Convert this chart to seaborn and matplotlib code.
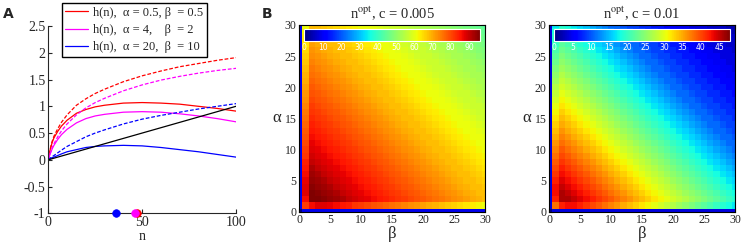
import numpy as np
import seaborn as sns
import matplotlib.pyplot as plt

# ---- panel A: h(n) curves (solid) and their cost-free version (dashed)
n_pts = [0, 1, 2, 3, 5, 7, 10, 15, 20, 25, 30, 40, 50, 60, 70, 80, 90, 100]
red_dash = [0, 0.20, 0.34, 0.44, 0.58, 0.70, 0.84, 1.02, 1.14, 1.24, 1.32, 1.46, 1.57, 1.66, 1.74, 1.80, 1.86, 1.91]
red_solid = [0, 0.19, 0.32, 0.41, 0.53, 0.63, 0.74, 0.87, 0.94, 0.99, 1.02, 1.06, 1.07, 1.06, 1.04, 1.00, 0.96, 0.91]
mag_dash = [0, 0.12, 0.22, 0.30, 0.43, 0.54, 0.67, 0.84, 0.97, 1.07, 1.15, 1.29, 1.40, 1.49, 1.56, 1.62, 1.67, 1.71]
mag_solid = [0, 0.11, 0.20, 0.27, 0.38, 0.47, 0.57, 0.69, 0.77, 0.82, 0.85, 0.89, 0.90, 0.89, 0.86, 0.82, 0.77, 0.71]
blue_dash = [0, 0.03, 0.06, 0.08, 0.13, 0.18, 0.25, 0.34, 0.43, 0.50, 0.56, 0.67, 0.76, 0.83, 0.89, 0.95, 1.00, 1.05]
blue_solid = [0, 0.02, 0.04, 0.05, 0.08, 0.11, 0.15, 0.19, 0.23, 0.25, 0.26, 0.27, 0.26, 0.23, 0.19, 0.15, 0.10, 0.05]
cost_n = [0, 100]
cost = [0, 1]
opt_n = [47.5, 46, 36]
line_colors = ['#ff0000', '#ff00ff', '#0000ff']
legend_labels = ['h(n),  \u03b1 = 0.5, \u03b2  = 0.5',
                 'h(n),  \u03b1 = 4,    \u03b2  = 2',
                 'h(n),  \u03b1 = 20,  \u03b2  = 10']
a_yticks = [-1, -0.5, 0, 0.5, 1, 1.5, 2, 2.5]
a_yticklabels = ['-1', '-0.5', '0', '0.5', '1', '1.5', '2', '2.5']
a_xticks = [0, 50, 100]

# ---- panels B, C: n_opt over (alpha rows 0..30, beta columns 0..30)
grid_ticks = [0, 5, 10, 15, 20, 25, 30]
cbar_ticks_005 = [0, 10, 20, 30, 40, 50, 60, 70, 80, 90]
cbar_ticks_01 = [0, 5, 10, 15, 20, 25, 30, 35, 40, 45]

nopt_c005 = [
    [0, 9, 9, 9, 9, 9, 9, 9, 9, 9, 9, 9, 9, 9, 9, 9, 9, 9, 9, 9, 9, 9, 9, 9, 9, 9, 9, 9, 9, 9, 9],
    [9, 81, 86, 88, 88, 87, 86, 85, 84, 82, 81, 80, 79, 78, 77, 76, 75, 74, 73, 72, 71, 70, 69, 68, 67, 66, 65, 64, 63, 62, 61],
    [9, 86, 96, 96, 95, 94, 93, 92, 90, 89, 88, 87, 86, 85, 84, 83, 82, 81, 80, 79, 78, 77, 76, 75, 74, 73, 72, 71, 70, 69, 68],
    [9, 88, 96, 95, 94, 93, 92, 90, 89, 88, 87, 86, 85, 84, 83, 82, 81, 80, 79, 78, 77, 76, 75, 74, 73, 72, 71, 70, 69, 68, 68],
    [9, 88, 95, 94, 93, 92, 90, 89, 88, 87, 86, 85, 84, 83, 82, 81, 80, 79, 78, 77, 76, 75, 74, 73, 72, 71, 70, 69, 68, 68, 67],
    [9, 87, 94, 93, 92, 90, 89, 88, 87, 86, 85, 84, 83, 82, 81, 80, 79, 78, 77, 76, 75, 74, 73, 72, 71, 70, 69, 68, 68, 67, 66],
    [9, 86, 93, 92, 90, 89, 88, 87, 86, 85, 84, 83, 82, 81, 80, 79, 78, 77, 76, 75, 74, 73, 72, 71, 70, 69, 68, 68, 67, 66, 65],
    [9, 85, 92, 90, 89, 88, 87, 86, 85, 84, 83, 82, 81, 80, 79, 78, 77, 76, 75, 74, 73, 72, 71, 70, 69, 68, 68, 67, 66, 65, 64],
    [9, 84, 90, 89, 88, 87, 86, 85, 84, 83, 82, 81, 80, 79, 78, 77, 76, 75, 74, 73, 72, 71, 70, 69, 68, 68, 67, 66, 65, 64, 63],
    [9, 82, 89, 88, 87, 86, 85, 84, 83, 82, 81, 80, 79, 78, 77, 76, 75, 74, 73, 72, 71, 70, 69, 68, 68, 67, 66, 65, 64, 63, 62],
    [9, 81, 88, 87, 86, 85, 84, 83, 82, 81, 80, 79, 78, 77, 76, 75, 74, 73, 72, 71, 70, 69, 68, 68, 67, 66, 65, 64, 63, 62, 61],
    [9, 80, 87, 86, 85, 84, 83, 82, 81, 80, 79, 78, 77, 76, 75, 74, 73, 72, 71, 70, 69, 68, 68, 67, 66, 65, 64, 63, 62, 61, 61],
    [9, 79, 86, 85, 84, 83, 82, 81, 80, 79, 78, 77, 76, 75, 74, 73, 72, 71, 70, 69, 68, 68, 67, 66, 65, 64, 63, 62, 61, 61, 60],
    [9, 78, 85, 84, 83, 82, 81, 80, 79, 78, 77, 76, 75, 74, 73, 72, 71, 70, 69, 68, 68, 67, 66, 65, 64, 63, 62, 61, 61, 60, 59],
    [9, 77, 84, 83, 82, 81, 80, 79, 78, 77, 76, 75, 74, 73, 72, 71, 70, 69, 68, 68, 67, 66, 65, 64, 63, 62, 61, 61, 60, 59, 58],
    [9, 76, 83, 82, 81, 80, 79, 78, 77, 76, 75, 74, 73, 72, 71, 70, 69, 68, 68, 67, 66, 65, 64, 63, 62, 61, 61, 60, 59, 58, 57],
    [9, 75, 82, 81, 80, 79, 78, 77, 76, 75, 74, 73, 72, 71, 70, 69, 68, 68, 67, 66, 65, 64, 63, 62, 61, 61, 60, 59, 58, 57, 57],
    [9, 74, 81, 80, 79, 78, 77, 76, 75, 74, 73, 72, 71, 70, 69, 68, 68, 67, 66, 65, 64, 63, 62, 61, 61, 60, 59, 58, 57, 57, 56],
    [9, 73, 80, 79, 78, 77, 76, 75, 74, 73, 72, 71, 70, 69, 68, 68, 67, 66, 65, 64, 63, 62, 61, 61, 60, 59, 58, 57, 57, 56, 55],
    [9, 72, 79, 78, 77, 76, 75, 74, 73, 72, 71, 70, 69, 68, 68, 67, 66, 65, 64, 63, 62, 61, 61, 60, 59, 58, 57, 57, 56, 55, 54],
    [9, 71, 78, 77, 76, 75, 74, 73, 72, 71, 70, 69, 68, 68, 67, 66, 65, 64, 63, 62, 61, 61, 60, 59, 58, 57, 57, 56, 55, 54, 53],
    [9, 70, 77, 76, 75, 74, 73, 72, 71, 70, 69, 68, 68, 67, 66, 65, 64, 63, 62, 61, 61, 60, 59, 58, 57, 57, 56, 55, 54, 53, 53],
    [9, 69, 76, 75, 74, 73, 72, 71, 70, 69, 68, 68, 67, 66, 65, 64, 63, 62, 61, 61, 60, 59, 58, 57, 57, 56, 55, 54, 53, 53, 52],
    [9, 68, 75, 74, 73, 72, 71, 70, 69, 68, 68, 67, 66, 65, 64, 63, 62, 61, 61, 60, 59, 58, 57, 57, 56, 55, 54, 53, 53, 52, 51],
    [9, 67, 74, 73, 72, 71, 70, 69, 68, 68, 67, 66, 65, 64, 63, 62, 61, 61, 60, 59, 58, 57, 57, 56, 55, 54, 53, 53, 52, 51, 50],
    [9, 66, 73, 72, 71, 70, 69, 68, 68, 67, 66, 65, 64, 63, 62, 61, 61, 60, 59, 58, 57, 57, 56, 55, 54, 53, 53, 52, 51, 50, 49],
    [9, 65, 72, 71, 70, 69, 68, 68, 67, 66, 65, 64, 63, 62, 61, 61, 60, 59, 58, 57, 57, 56, 55, 54, 53, 53, 52, 51, 50, 49, 48],
    [9, 64, 71, 70, 69, 68, 68, 67, 66, 65, 64, 63, 62, 61, 61, 60, 59, 58, 57, 57, 56, 55, 54, 53, 53, 52, 51, 50, 49, 48, 47],
    [9, 63, 70, 69, 68, 68, 67, 66, 65, 64, 63, 62, 61, 61, 60, 59, 58, 57, 57, 56, 55, 54, 53, 53, 52, 51, 50, 49, 48, 47, 46],
    [9, 62, 69, 68, 68, 67, 66, 65, 64, 63, 62, 61, 61, 60, 59, 58, 57, 57, 56, 55, 54, 53, 53, 52, 51, 50, 49, 48, 47, 46, 45],
    [9, 61, 68, 68, 67, 66, 65, 64, 63, 62, 61, 61, 60, 59, 58, 57, 57, 56, 55, 54, 53, 53, 52, 51, 50, 49, 48, 47, 46, 45, 44],
]

nopt_c01 = [
    [0, 4, 4, 4, 4, 4, 4, 4, 4, 4, 4, 4, 4, 4, 4, 4, 4, 4, 4, 4, 4, 4, 4, 4, 4, 4, 4, 4, 4, 4, 4],
    [4, 38, 42, 43, 43, 42, 41, 40, 39, 38, 37, 36, 35, 34, 33, 32, 31, 30, 29, 28, 27, 26, 25, 24, 23, 22, 21, 20, 19, 18, 17],
    [4, 42, 46, 46, 45, 44, 43, 42, 41, 40, 39, 38, 37, 36, 35, 34, 33, 32, 31, 30, 29, 28, 27, 26, 25, 24, 23, 22, 21, 20, 19],
    [4, 43, 46, 45, 44, 43, 42, 41, 40, 39, 38, 37, 36, 35, 34, 33, 32, 31, 30, 29, 28, 27, 26, 25, 24, 23, 22, 21, 20, 19, 18],
    [4, 43, 45, 44, 43, 42, 41, 40, 39, 38, 37, 36, 35, 34, 33, 32, 31, 30, 29, 28, 27, 26, 25, 24, 23, 22, 21, 20, 19, 18, 17],
    [4, 42, 44, 43, 42, 41, 40, 39, 38, 37, 36, 35, 34, 33, 32, 31, 30, 29, 28, 27, 26, 25, 24, 23, 22, 21, 20, 19, 18, 17, 16],
    [4, 41, 43, 42, 41, 40, 39, 38, 37, 36, 35, 34, 33, 32, 31, 30, 29, 28, 27, 26, 25, 24, 23, 22, 21, 20, 19, 18, 17, 16, 15],
    [4, 40, 42, 41, 40, 39, 38, 37, 36, 35, 34, 33, 32, 31, 30, 29, 28, 27, 26, 25, 24, 23, 22, 21, 20, 19, 18, 17, 16, 15, 14],
    [4, 39, 41, 40, 39, 38, 37, 36, 35, 34, 33, 32, 31, 30, 29, 28, 27, 26, 25, 24, 23, 22, 21, 20, 19, 18, 17, 16, 15, 14, 13],
    [4, 38, 40, 39, 38, 37, 36, 35, 34, 33, 32, 31, 30, 29, 28, 27, 26, 25, 24, 23, 22, 21, 20, 19, 18, 17, 16, 15, 14, 13, 12],
    [4, 37, 39, 38, 37, 36, 35, 34, 33, 32, 31, 30, 29, 28, 27, 26, 25, 24, 23, 22, 21, 20, 19, 18, 17, 16, 15, 14, 13, 12, 11],
    [4, 36, 38, 37, 36, 35, 34, 33, 32, 31, 30, 29, 28, 27, 26, 25, 24, 23, 22, 21, 20, 19, 18, 17, 16, 15, 14, 13, 12, 11, 11],
    [4, 35, 37, 36, 35, 34, 33, 32, 31, 30, 29, 28, 27, 26, 25, 24, 23, 22, 21, 20, 19, 18, 17, 16, 15, 14, 13, 12, 11, 11, 10],
    [4, 34, 36, 35, 34, 33, 32, 31, 30, 29, 28, 27, 26, 25, 24, 23, 22, 21, 20, 19, 18, 17, 16, 15, 14, 13, 12, 11, 11, 10, 9],
    [4, 33, 35, 34, 33, 32, 31, 30, 29, 28, 27, 26, 25, 24, 23, 22, 21, 20, 19, 18, 17, 16, 15, 14, 13, 12, 11, 11, 10, 9, 9],
    [4, 32, 34, 33, 32, 31, 30, 29, 28, 27, 26, 25, 24, 23, 22, 21, 20, 19, 18, 17, 16, 15, 14, 13, 12, 11, 11, 10, 9, 9, 8],
    [4, 31, 33, 32, 31, 30, 29, 28, 27, 26, 25, 24, 23, 22, 21, 20, 19, 18, 17, 16, 15, 14, 13, 12, 11, 11, 10, 9, 9, 8, 8],
    [4, 30, 32, 31, 30, 29, 28, 27, 26, 25, 24, 23, 22, 21, 20, 19, 18, 17, 16, 15, 14, 13, 12, 11, 11, 10, 9, 9, 8, 8, 7],
    [4, 29, 31, 30, 29, 28, 27, 26, 25, 24, 23, 22, 21, 20, 19, 18, 17, 16, 15, 14, 13, 12, 11, 11, 10, 9, 9, 8, 8, 7, 7],
    [4, 28, 30, 29, 28, 27, 26, 25, 24, 23, 22, 21, 20, 19, 18, 17, 16, 15, 14, 13, 12, 11, 11, 10, 9, 9, 8, 8, 7, 7, 6],
    [4, 27, 29, 28, 27, 26, 25, 24, 23, 22, 21, 20, 19, 18, 17, 16, 15, 14, 13, 12, 11, 11, 10, 9, 9, 8, 8, 7, 7, 6, 6],
    [4, 26, 28, 27, 26, 25, 24, 23, 22, 21, 20, 19, 18, 17, 16, 15, 14, 13, 12, 11, 11, 10, 9, 9, 8, 8, 7, 7, 6, 6, 5],
    [4, 25, 27, 26, 25, 24, 23, 22, 21, 20, 19, 18, 17, 16, 15, 14, 13, 12, 11, 11, 10, 9, 9, 8, 8, 7, 7, 6, 6, 5, 5],
    [4, 24, 26, 25, 24, 23, 22, 21, 20, 19, 18, 17, 16, 15, 14, 13, 12, 11, 11, 10, 9, 9, 8, 8, 7, 7, 6, 6, 5, 5, 4],
    [4, 23, 25, 24, 23, 22, 21, 20, 19, 18, 17, 16, 15, 14, 13, 12, 11, 11, 10, 9, 9, 8, 8, 7, 7, 6, 6, 5, 5, 4, 4],
    [4, 22, 24, 23, 22, 21, 20, 19, 18, 17, 16, 15, 14, 13, 12, 11, 11, 10, 9, 9, 8, 8, 7, 7, 6, 6, 5, 5, 4, 4, 4],
    [4, 21, 23, 22, 21, 20, 19, 18, 17, 16, 15, 14, 13, 12, 11, 11, 10, 9, 9, 8, 8, 7, 7, 6, 6, 5, 5, 4, 4, 4, 3],
    [4, 20, 22, 21, 20, 19, 18, 17, 16, 15, 14, 13, 12, 11, 11, 10, 9, 9, 8, 8, 7, 7, 6, 6, 5, 5, 4, 4, 4, 3, 3],
    [4, 19, 21, 20, 19, 18, 17, 16, 15, 14, 13, 12, 11, 11, 10, 9, 9, 8, 8, 7, 7, 6, 6, 5, 5, 4, 4, 4, 3, 3, 3],
    [4, 18, 20, 19, 18, 17, 16, 15, 14, 13, 12, 11, 11, 10, 9, 9, 8, 8, 7, 7, 6, 6, 5, 5, 4, 4, 4, 3, 3, 3, 2],
    [4, 17, 19, 18, 17, 16, 15, 14, 13, 12, 11, 11, 10, 9, 9, 8, 8, 7, 7, 6, 6, 5, 5, 4, 4, 4, 3, 3, 3, 2, 2],
]

sns.set_style('ticks')
plt.rcParams['font.family'] = ['Liberation Serif', 'DejaVu Serif']
plt.rcParams['mathtext.fontset'] = 'stix'

fig = plt.figure(figsize=(7.41, 2.46), dpi=100)

# ---------------- panel A
axA = fig.add_axes([0.0652, 0.133, 0.2533, 0.761])
series = [(red_solid, red_dash), (mag_solid, mag_dash), (blue_solid, blue_dash)]
for (solid, dashed), col, lab in zip(series, line_colors, legend_labels):
    sns.lineplot(x=n_pts, y=dashed, color=col, lw=0.9, linestyle=(0, (3, 1.5)), ax=axA)
    sns.lineplot(x=n_pts, y=solid, color=col, lw=0.9, ax=axA, label=lab)
sns.lineplot(x=cost_n, y=cost, color='black', lw=0.9, ax=axA)

axA.set_xlim(0, 100)
axA.set_ylim(-1, 2.5)
floor = axA.get_ylim()[0]
for n, col in zip(opt_n, line_colors):
    sns.scatterplot(x=[n], y=[floor], color=col, s=30, edgecolor=col, linewidth=0.5,
                    zorder=5, clip_on=False, ax=axA, legend=False)

axA.set_xticks(a_xticks)
axA.set_yticks(a_yticks)
axA.set_yticklabels(a_yticklabels)
axA.tick_params(direction='in', length=3, width=0.8, labelsize=10, pad=2)
axA.spines['top'].set_visible(False)
axA.spines['right'].set_visible(False)
axA.set_xlabel('n', fontsize=10, labelpad=1)
axA.set_ylabel('')
axA.legend(loc='upper left', bbox_to_anchor=(0.071, 1.123), borderaxespad=0,
           frameon=True, fancybox=False, edgecolor='black', framealpha=1,
           fontsize=9, handlelength=1.8, handletextpad=0.4, labelspacing=0.42,
           borderpad=0.3)
fig.text(0.0045, 0.944, 'A', fontsize=10, weight='bold', family='DejaVu Sans', va='center')


# ---------------- panels B and C
def nopt_map(left, grid, vmax, cticks, title):
    ax = fig.add_axes([left, 0.1394, 0.2506, 0.759])
    sns.heatmap(np.array(grid), cmap='jet', vmin=0, vmax=vmax, cbar=False,
                xticklabels=False, yticklabels=False, ax=ax)
    ax.set_xlim(0.5, 30.5)
    ax.set_ylim(0.5, 30.5)
    for sp in ax.spines.values():
        sp.set_visible(True)
        sp.set_color('black')
        sp.set_linewidth(0.8)
    ax.set_xticks([t + 0.5 for t in grid_ticks])
    ax.set_yticks([t + 0.5 for t in grid_ticks])
    ax.set_xticklabels(grid_ticks, rotation=0)
    ax.set_yticklabels(grid_ticks, rotation=0)
    ax.tick_params(direction='in', length=3, width=0.8, labelsize=8.5, pad=2,
                   top=True, right=True)
    ax.set_xlabel('\u03b2', fontsize=12, labelpad=0)
    ax.set_ylabel('\u03b1', fontsize=12, rotation=0, labelpad=6, va='center')
    ax.set_title(title, fontsize=10.5, pad=5)

    cax = ax.inset_axes([0.027, 0.916, 0.946, 0.061])
    cb = fig.colorbar(ax.collections[0], cax=cax, orientation='horizontal')
    cb.set_ticks(cticks)
    cb.outline.set_edgecolor('white')
    cb.outline.set_linewidth(0.8)
    cax.tick_params(axis='x', which='both', direction='in', length=2, width=0.5,
                    color='white', labelcolor='white', labelsize=5.5, pad=2,
                    top=True, bottom=True)
    for lab in cax.get_xticklabels():
        lab.set_family('DejaVu Sans')
    return ax


axB = nopt_map(0.404, nopt_c005, 96, cbar_ticks_005, r'n$^{\mathrm{opt}}$, c = 0.005')
axC = nopt_map(0.7413, nopt_c01, 48, cbar_ticks_01, r'n$^{\mathrm{opt}}$, c = 0.01')
fig.text(0.353, 0.944, 'B', fontsize=10, weight='bold', family='DejaVu Sans', va='center')

fig.savefig('out.png', dpi=100)
